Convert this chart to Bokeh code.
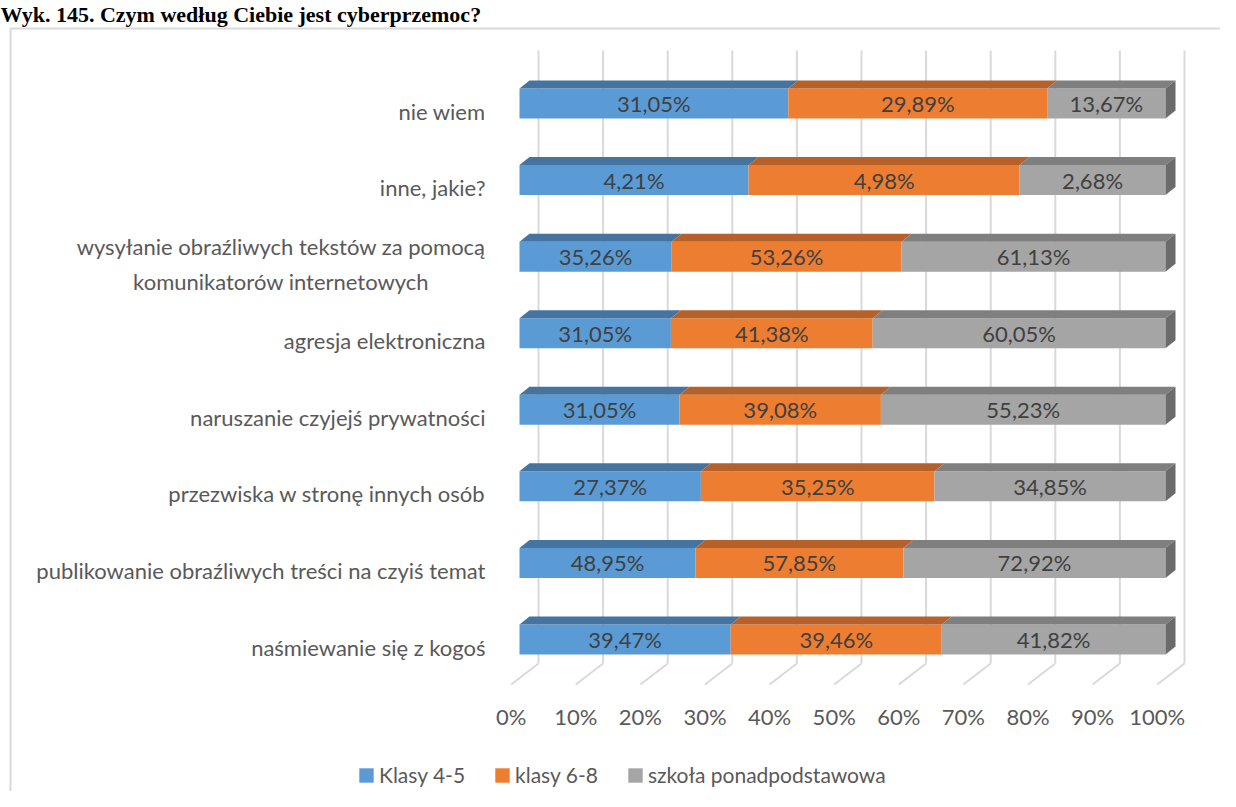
from bokeh.plotting import figure
from bokeh.models import Range1d, ColumnDataSource, Legend, LegendItem
from bokeh.core.properties import value
from bokeh.embed import file_html
from bokeh.resources import INLINE

# ---------------- data ----------------
title_text = "Wyk. 145. Czym według Ciebie jest cyberprzemoc?"
categories = [
    "nie wiem",
    "inne, jakie?",
    "wysyłanie obraźliwych tekstów za pomocą\nkomunikatorów internetowych",
    "agresja elektroniczna",
    "naruszanie czyjejś prywatności",
    "przezwiska w stronę innych osób",
    "publikowanie obraźliwych treści na czyiś temat",
    "naśmiewanie się z kogoś",
]
klasy_4_5 = [31.05, 4.21, 35.26, 31.05, 31.05, 27.37, 48.95, 39.47]
klasy_6_8 = [29.89, 4.98, 53.26, 41.38, 39.08, 35.25, 57.85, 39.46]
szkola_ponadpodstawowa = [13.67, 2.68, 61.13, 60.05, 55.23, 34.85, 72.92, 41.82]
series_names = ["Klasy 4-5", "klasy 6-8", "szkoła ponadpodstawowa"]
x_ticks = [0, 10, 20, 30, 40, 50, 60, 70, 80, 90, 100]
tick_labels = [f"{t}%" for t in x_ticks]

# ---------------- style / layout ----------------
front_colors = ["#5B9BD5", "#ED7D31", "#A5A5A5"]
top_colors = ["#4674A1", "#B6602A", "#7F7F7F"]
side_color = "#6B6B6B"
FONT = "Lato"

W, H = 1220, 791
X0, PX_PER_PCT = 519.0, 6.46      # pixel of 0 %, pixels per percent
Y0, PX_PER_ROW = 639.0, 76.57     # pixel of bottom row centre, pixels per row


def px_x(px):
    return (px - X0) / PX_PER_PCT


def px_y(py):
    return (Y0 - py) / PX_PER_ROW


BAR_H = 30 / PX_PER_ROW
DX = 10 / PX_PER_PCT      # 3D depth
DY = 8 / PX_PER_ROW
GRID_BACK = 19 / PX_PER_PCT
GRID_FRONT = -8.3 / PX_PER_PCT

p = figure(width=W, height=H, x_range=Range1d(px_x(0), px_x(W)),
           y_range=Range1d(px_y(H), px_y(0)),
           x_axis_type=None, y_axis_type=None,
           output_backend="svg", toolbar_location=None, min_border=0)
p.outline_line_color = None
p.grid.visible = False
p.background_fill_color = "white"

# chart area border (left and top)
bx = px_x(10)
by = px_y(28)
p.line([bx, bx, px_x(W)], [px_y(H), by, by], line_color="#D9D9D9", line_width=2)

# title
p.text(x=[px_x(0)], y=[px_y(1)], text=[title_text], text_font=value("Liberation Serif"),
       text_font_style="bold", text_font_size="22px", text_color="#000000",
       text_baseline="top", text_align="left")

# 3D gridlines (back wall + floor)
g_top, g_bot, g_floor = px_y(50), px_y(663), px_y(684)
gx_back = [t + GRID_BACK for t in x_ticks]
gx_front = [t + GRID_FRONT for t in x_ticks]
p.segment(x0=gx_back, y0=[g_top] * len(x_ticks), x1=gx_back, y1=[g_bot] * len(x_ticks),
          line_color="#D9D9D9", line_width=2)
p.segment(x0=gx_back, y0=[g_bot] * len(x_ticks), x1=gx_front, y1=[g_floor] * len(x_ticks),
          line_color="#D9D9D9", line_width=2)

# tick labels
p.text(x=gx_front, y=[px_y(716)] * len(x_ticks), text=tick_labels,
       text_font=value(FONT), text_font_size="22px", text_color="#595959",
       text_align="center", text_baseline="middle")

# bars
n = len(categories)
ys = [n - 1 - i for i in range(n)]
series = [klasy_4_5, klasy_6_8, szkola_ponadpodstawowa]
totals = [a + b + c for a, b, c in zip(*series)]
left = [0.0] * n
renderers = []
for si, vals in enumerate(series):
    share = [100.0 * v / t for v, t in zip(vals, totals)]
    right = [l + s for l, s in zip(left, share)]
    src = ColumnDataSource(dict(
        y=ys, left=left, right=right,
        mid=[(l + r) / 2 for l, r in zip(left, right)],
        label=[f"{v:.2f}".replace(".", ",") + "%" for v in vals],
    ))
    r = p.hbar(y="y", left="left", right="right", height=BAR_H, source=src,
               fill_color=front_colors[si], line_color=None)
    renderers.append(r)
    top_xs = [[l, rr, rr + DX, l + DX] for l, rr in zip(left, right)]
    top_ys = [[y + BAR_H / 2, y + BAR_H / 2, y + BAR_H / 2 + DY, y + BAR_H / 2 + DY] for y in ys]
    p.patches(top_xs, top_ys, fill_color=top_colors[si], line_color=None)
    if si == len(series) - 1:
        side_xs = [[rr, rr + DX, rr + DX, rr] for rr in right]
        side_ys = [[y - BAR_H / 2, y - BAR_H / 2 + DY, y + BAR_H / 2 + DY, y + BAR_H / 2] for y in ys]
        p.patches(side_xs, side_ys, fill_color=side_color, line_color=None)
    p.text(x="mid", y="y", text="label", source=src, text_font=value(FONT),
           text_font_size="22px", text_color="#404040",
           text_align="center", text_baseline="middle")
    left = right

# category labels
p.text(x=[px_x(485)] * n, y=[y - 7.5 / PX_PER_ROW for y in ys], text=categories,
       anchor=value("center_right"), text_align="center", text_baseline="middle",
       text_font=value(FONT), text_font_size="22px", text_color="#595959",
       text_line_height=1.3)

legend = Legend(items=[LegendItem(label=nm, renderers=[r]) for nm, r in zip(series_names, renderers)],
                orientation="horizontal", location=(357, 4),
                glyph_width=18, glyph_height=18, label_standoff=4, spacing=28,
                padding=0, margin=0, background_fill_alpha=0, border_line_color=None,
                label_text_font=FONT, label_text_font_size="21px", label_text_color="#595959")
p.add_layout(legend)

open("out.html", "w").write(file_html(p, INLINE))
